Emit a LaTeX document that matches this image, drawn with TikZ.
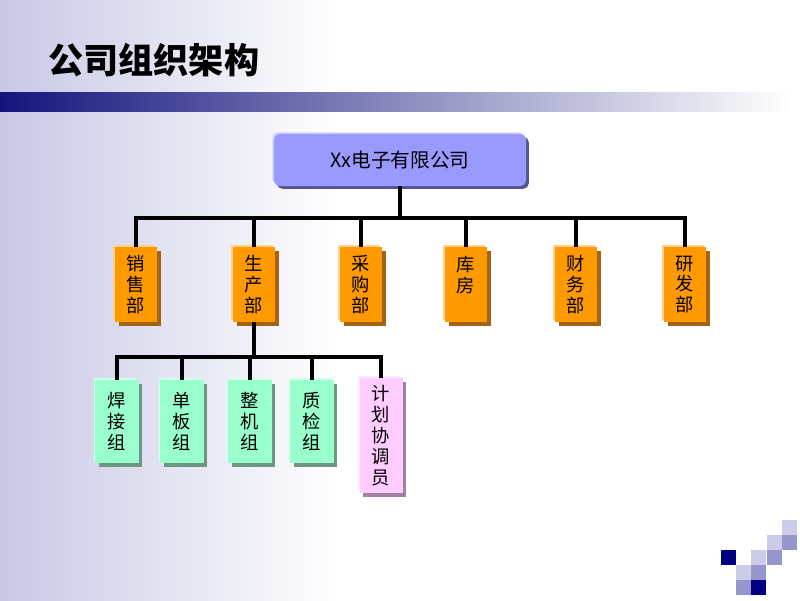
\documentclass[tikz,border=0pt]{standalone}
\usepackage{fontspec}
\setmainfont{Noto Sans CJK SC}
\usetikzlibrary{shadows}
\definecolor{lav}{RGB}{200,200,230}
\definecolor{navy}{RGB}{20,20,125}
\definecolor{barmid}{RGB}{160,160,182}
\definecolor{coblue}{RGB}{153,153,255}
\definecolor{coshade}{RGB}{85,85,140}
\definecolor{deptorange}{RGB}{255,153,0}
\definecolor{deptshade}{RGB}{160,100,20}
\definecolor{grpgreen}{RGB}{153,255,204}
\definecolor{grpshade}{RGB}{110,150,130}
\definecolor{rolepink}{RGB}{255,204,255}
\definecolor{roleshade}{RGB}{160,130,160}
\definecolor{sqlight}{RGB}{204,204,232}
\definecolor{sqmid}{RGB}{150,150,204}
\definecolor{sqdark}{RGB}{0,0,128}

\begin{document}
\begin{tikzpicture}[x=0.025cm, y=-0.025cm,
	conn/.style={line width=2.3pt},
	card/.style={align=center, inner sep=0pt, text=black,
		font=\fontsize{13}{14.8}\selectfont},
	company/.style={card, fill=coblue, rounded corners=4pt,
		minimum width=6.3cm, minimum height=1.3cm,
		font=\fontsize{14}{16}\selectfont,
		general shadow={fill=coblue!45!white, shadow xshift=-1.2pt, shadow yshift=1.2pt},
		general shadow={fill=coshade, shadow xshift=2pt, shadow yshift=-2pt}},
	dept/.style={card, fill=deptorange, minimum width=1.05cm, minimum height=1.875cm,
		general shadow={fill=deptorange!45!white, shadow xshift=-1.2pt, shadow yshift=1.2pt},
		general shadow={fill=deptshade, shadow xshift=2.8pt, shadow yshift=-2.8pt}},
	grp/.style={card, fill=grpgreen, minimum width=1.075cm, minimum height=2.075cm,
		general shadow={fill=grpgreen!45!white, shadow xshift=-1.2pt, shadow yshift=1.2pt},
		general shadow={fill=grpshade, shadow xshift=2.8pt, shadow yshift=-2.8pt}},
	role/.style={card, fill=rolepink, minimum width=1.075cm, minimum height=2.875cm,
		general shadow={fill=rolepink!45!white, shadow xshift=-1.2pt, shadow yshift=1.2pt},
		general shadow={fill=roleshade, shadow xshift=2.8pt, shadow yshift=-2.8pt}}]
	\path[use as bounding box] (0,0) rectangle (800,600);
	
	% background
	\fill[white] (0,0) rectangle (800,600);
	\shade[left color=lav, right color=white] (0,0) rectangle (340,600);
	\shade[left color=navy, middle color=barmid, right color=white] (0,92) rectangle (790,111);
	\node[anchor=west, inner sep=0pt, font=\fontsize{25}{30}\selectfont\bfseries] (title) at (48,60) {公司组织架构};
	
	\foreach \c/\r/\col in {4/0/sqlight, 3/1/sqlight, 4/1/sqmid, 0/2/sqdark, 2/2/sqlight,
		3/2/sqmid, 1/3/sqlight, 2/3/sqmid, 1/4/sqmid, 2/4/sqdark}
		\fill[\col] (721+15.2*\c,520+15*\r) rectangle ++(15,15);
	
	% company
	\node[company] (co) at (400,160) {Xx电子有限公司};
	\coordinate (bus) at (400,218);
	\draw[conn] (co.south) -- (bus);
	
	% departments
	\foreach \name/\x/\txt in {sales/136/{销\\售\\部}, prod/254/{生\\产\\部}, buy/361/{采\\购\\部},
		store/466/{库\\房\\~}, fin/576/{财\\务\\部}, rnd/685/{研\\发\\部}} {
		\node[dept] (\name) at (\x,284.5) {\txt};
		\draw[conn] (\name.north) |- (bus);
	}
	
	% production groups
	\coordinate (bus2) at (254,357);
	\draw[conn] (prod.south) -- (bus2);
	\foreach \name/\x/\txt in {weld/117/{焊\\接\\组}, board/182/{单\\板\\组},
		unit/250/{整\\机\\组}, qc/312/{质\\检\\组}} {
		\node[grp] (\name) at (\x,421.5) {\txt};
		\draw[conn] (\name.north) |- (bus2);
	}
	\node[role] (plan) at (381,435.5) {计\\划\\协\\调\\员};
	\draw[conn] (plan.north) |- (bus2);
	
\end{tikzpicture}
\end{document}
